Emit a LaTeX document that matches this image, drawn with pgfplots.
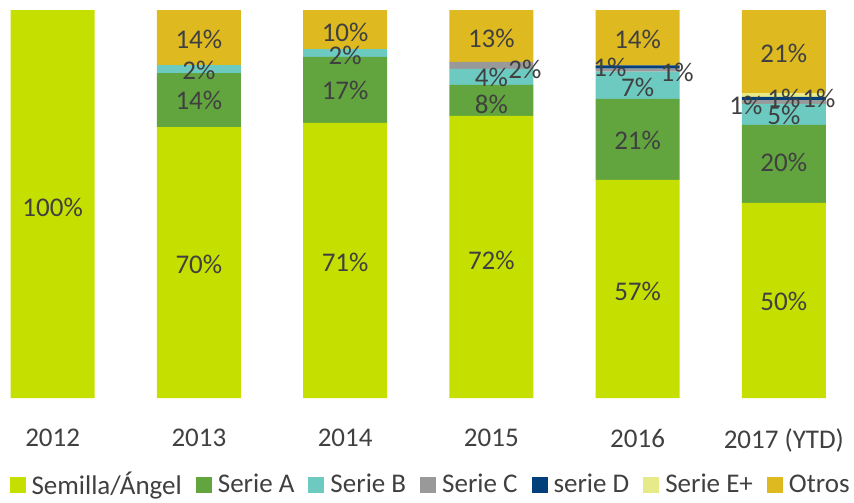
\documentclass[border=0pt]{standalone}
\usepackage{fontspec}
\setmainfont{Carlito}
\usepackage{pgfplots}
\pgfplotsset{compat=1.18}
\definecolor{csem}{HTML}{C5E000}
\definecolor{cA}{HTML}{62A53F}
\definecolor{cB}{HTML}{6CCAC0}
\definecolor{cC}{HTML}{999999}
\definecolor{cD}{HTML}{003F7A}
\definecolor{cE}{HTML}{E6EA88}
\definecolor{cO}{HTML}{DEBA20}
\definecolor{txt}{HTML}{404040}
\newcommand{\fs}{\fontsize{13.5}{16}\selectfont}
\begin{document}
\begin{tikzpicture}
\begin{axis}[
  width=427pt, height=199pt, scale only axis,
  xmin=-0.36, xmax=5.48, ymin=0, ymax=102.58,
  ybar stacked, bar width=42pt,
  axis line style={draw=none}, major tick length=0pt,
  ytick=\empty, xtick={0,1,2,3,4,5},
  xticklabels={2012,2013,2014,2015,2016,2017 (YTD)},
  xticklabel style={font=\fs, text=txt, yshift=-12pt},
  legend columns=7,
  legend style={at={(0.503,-0.219)}, anchor=center, draw=none, fill=none,
    font=\fs, text=txt, nodes={inner sep=0pt},
    /tikz/every odd column/.append style={column sep=3pt},
    /tikz/every even column/.append style={column sep=7pt}},
  legend image code/.code={\fill[#1] (0pt,-4pt) rectangle (8pt,4pt);},
  every axis plot/.append style={draw=none},
]
\addplot[fill=csem] coordinates {(0,100) (1,69.8) (2,70.9) (3,72.7) (4,56.2) (5,50.3)};
\addplot[fill=cA] coordinates {(0,0) (1,13.9) (2,17.0) (3,8.0) (4,20.9) (5,20.1)};
\addplot[fill=cB] coordinates {(0,0) (1,2.1) (2,2.0) (3,4.1) (4,7.0) (5,5.4)};
\addplot[fill=cC] coordinates {(0,0) (1,0) (2,0) (3,1.8) (4,0.8) (5,1.0)};
\addplot[fill=cD] coordinates {(0,0) (1,0) (2,0) (3,0) (4,0.8) (5,0.8)};
\addplot[fill=cE] coordinates {(0,0) (1,0) (2,0) (3,0) (4,0) (5,1.0)};
\addplot[fill=cO] coordinates {(0,0) (1,14.2) (2,10.1) (3,13.4) (4,14.3) (5,21.4)};
\legend{Semilla/Ángel, Serie A, Serie B, Serie C, serie D, Serie E+, Otros}
\end{axis}
\begin{axis}[
  width=427pt, height=199pt, scale only axis,
  xmin=-0.36, xmax=5.48, ymin=0, ymax=102.58, hide axis,
]
\addplot[draw=none, mark=none, nodes near coords, point meta=explicit symbolic,
  nodes near coords style={anchor=center, font=\fs, text=txt}]
coordinates {
(0,49)[100\%]
(1,34.5)[70\%] (1,76.8)[14\%] (1,84.5)[2\%] (1,92.3)[14\%]
(2,35)[71\%] (2,79.4)[17\%] (2,88.4)[2\%] (2,94.3)[10\%]
(3,35.5)[72\%] (3,75.8)[8\%] (3,82.5)[4\%] (3.23,84.8)[2\%] (3,92.8)[13\%]
(4,27.5)[57\%] (4,66.5)[21\%] (4,80)[7\%] (3.81,85.1)[1\%] (4.27,83.8)[1\%] (4,92.3)[14\%]
(5,24.8)[50\%] (5,60.6)[20\%] (5,72.9)[5\%] (4.74,75.3)[1\%] (5.0,77.3)[1\%] (5.24,77.3)[1\%] (5,88.9)[21\%]
};
\end{axis}
\pgfresetboundingbox
\path (0pt,-52pt) rectangle (427pt,199pt);
\end{tikzpicture}
\end{document}
